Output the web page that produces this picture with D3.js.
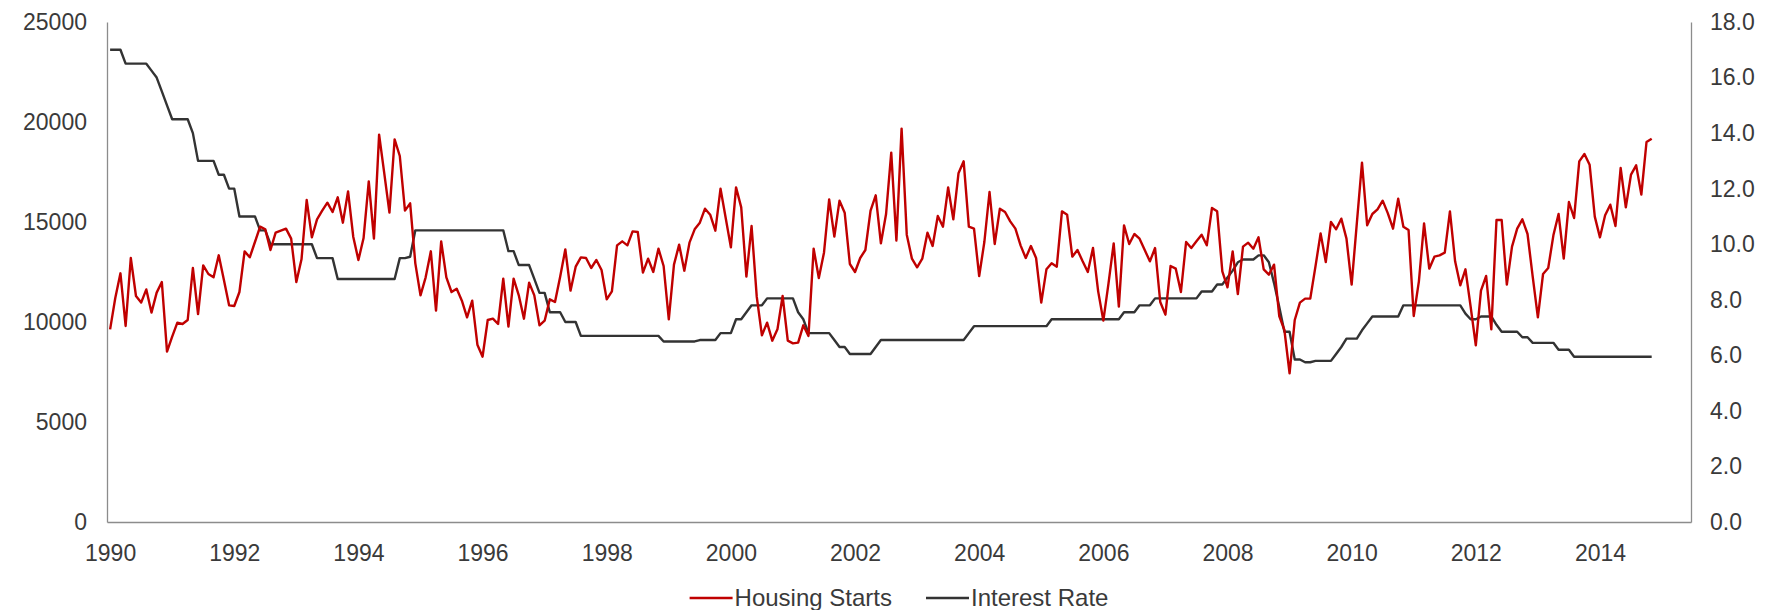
<!DOCTYPE html>
<html>
<head>
<meta charset="utf-8">
<script src="https://cdn.jsdelivr.net/npm/d3@7"></script>
<style>
  body { margin: 0; background: #ffffff; }
  text { font-family: "Liberation Sans", Arial, sans-serif; fill: #3a3a3a; }
</style>
</head>
<body>
<svg id="chart" width="1773" height="610"></svg>
<script>
// Monthly series, starting January 1990
const startYear = 1990;
const yearTicks = [1990, 1992, 1994, 1996, 1998, 2000, 2002, 2004, 2006, 2008, 2010, 2012, 2014];
const startsTicks = [0, 5000, 10000, 15000, 20000, 25000];
const rateTicks = [0, 2, 4, 6, 8, 10, 12, 14, 16, 18];
const seriesNames = ["Housing Starts", "Interest Rate"];

const housingStarts = [
  9633, 11200, 12433, 9800, 13200, 11300, 10970, 11630, 10470, 11470, 12000, 8517,
  9270, 9967, 9900, 10100, 12700, 10400, 12833, 12400, 12233, 13333, 12100, 10833,
  10800, 11500, 13533, 13233, 14000, 14767, 14633, 13600, 14467, 14567, 14667, 14167,
  12000, 13133, 16100, 14233, 15133, 15567, 15967, 15500, 16233, 14967, 16533, 14267,
  13100, 14200, 17033, 14167, 19367, 17433, 15467, 19133, 18300, 15567, 15933, 12933,
  11333, 12233, 13533, 10567, 14033, 12233, 11500, 11667, 11067, 10233, 11067, 8867,
  8267, 10100, 10167, 9900, 12167, 9767, 12167, 11333, 10167, 11967, 11333, 9833,
  10067, 11133, 11000, 12267, 13633, 11567, 12767, 13233, 13200, 12700, 13100, 12600,
  11133, 11533, 13833, 14033, 13833, 14533, 14500, 12467, 13167, 12500, 13667, 12800,
  10133, 12867, 13867, 12567, 13967, 14633, 14967, 15667, 15367, 14567, 16667, 15200,
  13733, 16733, 15733, 12267, 14800, 11267, 9333, 9967, 9067, 9633, 11300, 9067,
  8933, 8967, 9833, 9300, 13667, 12200, 13467, 16133, 14267, 16067, 15467, 12900,
  12500, 13200, 13600, 15567, 16333, 13933, 15400, 18467, 14067, 19667, 14367, 13167,
  12733, 13167, 14467, 13800, 15300, 14767, 16733, 15133, 17433, 18033, 14767, 14667,
  12300, 14000, 16500, 13900, 15667, 15500, 15033, 14667, 13833, 13200, 13800, 13200,
  10967, 12633, 12933, 12767, 15533, 15367, 13267, 13600, 13033, 12500, 13700, 11533,
  10067, 11933, 13933, 10767, 14833, 13900, 14400, 14167, 13600, 13033, 13700, 11000,
  10367, 12800, 12667, 11500, 14000, 13700, 14033, 14367, 13833, 15700, 15533, 12533,
  11733, 13533, 11400, 13767, 13967, 13667, 14233, 12633, 12367, 12867, 10300, 9600,
  7433, 10100, 10967, 11167, 11167, 12767, 14433, 13000, 15000, 14633, 15167, 14167,
  11867, 14933, 17967, 14833, 15400, 15633, 16067, 15433, 14667, 16167, 14767, 14600,
  10300, 12033, 14933, 12667, 13267, 13333, 13467, 15533, 13033, 11833, 12633, 10767,
  8833, 11567, 12300, 9633, 15100, 15100, 11867, 13767, 14667, 15133, 14400, 12267,
  10233, 12400, 12700, 14333, 15400, 13167, 16000, 15200, 18033, 18400, 17867, 15267,
  14233, 15333, 15867, 14800, 17700, 15733, 17367, 17833, 16367, 19000, 19167
];

const interestRate = [
  17.0, 17.0, 17.0, 16.5, 16.5, 16.5, 16.5, 16.5, 16.25, 16.0, 15.5, 15.0,
  14.5, 14.5, 14.5, 14.5, 14.0, 13.0, 13.0, 13.0, 13.0, 12.5, 12.5, 12.0,
  12.0, 11.0, 11.0, 11.0, 11.0, 10.5, 10.5, 10.0, 10.0, 10.0, 10.0, 10.0,
  10.0, 10.0, 10.0, 10.0, 9.5, 9.5, 9.5, 9.5, 8.75, 8.75, 8.75, 8.75,
  8.75, 8.75, 8.75, 8.75, 8.75, 8.75, 8.75, 8.75, 9.5, 9.5, 9.55, 10.5,
  10.5, 10.5, 10.5, 10.5, 10.5, 10.5, 10.5, 10.5, 10.5, 10.5, 10.5, 10.5,
  10.5, 10.5, 10.5, 10.5, 10.5, 9.75, 9.75, 9.25, 9.25, 9.25, 8.75, 8.25,
  8.25, 7.55, 7.55, 7.55, 7.2, 7.2, 7.2, 6.7, 6.7, 6.7, 6.7, 6.7,
  6.7, 6.7, 6.7, 6.7, 6.7, 6.7, 6.7, 6.7, 6.7, 6.7, 6.7, 6.5,
  6.5, 6.5, 6.5, 6.5, 6.5, 6.5, 6.55, 6.55, 6.55, 6.55, 6.8, 6.8,
  6.8, 7.3, 7.3, 7.55, 7.8, 7.8, 7.8, 8.05, 8.05, 8.05, 8.05, 8.05,
  8.05, 7.55, 7.3, 6.8, 6.8, 6.8, 6.8, 6.8, 6.55, 6.3, 6.3, 6.05,
  6.05, 6.05, 6.05, 6.05, 6.3, 6.55, 6.55, 6.55, 6.55, 6.55, 6.55, 6.55,
  6.55, 6.55, 6.55, 6.55, 6.55, 6.55, 6.55, 6.55, 6.55, 6.55, 6.8, 7.05,
  7.05, 7.05, 7.05, 7.05, 7.05, 7.05, 7.05, 7.05, 7.05, 7.05, 7.05, 7.05,
  7.05, 7.05, 7.3, 7.3, 7.3, 7.3, 7.3, 7.3, 7.3, 7.3, 7.3, 7.3,
  7.3, 7.3, 7.3, 7.3, 7.55, 7.55, 7.55, 7.8, 7.8, 7.8, 8.05, 8.05,
  8.05, 8.05, 8.05, 8.05, 8.05, 8.05, 8.05, 8.3, 8.3, 8.3, 8.55, 8.55,
  8.8, 9.05, 9.35, 9.45, 9.45, 9.45, 9.6, 9.6, 9.35, 8.6, 7.75, 6.85,
  6.85, 5.85, 5.85, 5.75, 5.75, 5.8, 5.8, 5.8, 5.8, 6.05, 6.3, 6.6,
  6.6, 6.6, 6.9, 7.15, 7.4, 7.4, 7.4, 7.4, 7.4, 7.4, 7.8, 7.8,
  7.8, 7.8, 7.8, 7.8, 7.8, 7.8, 7.8, 7.8, 7.8, 7.8, 7.5, 7.3,
  7.3, 7.4, 7.4, 7.4, 7.1, 6.85, 6.85, 6.85, 6.85, 6.65, 6.65, 6.45,
  6.45, 6.45, 6.45, 6.45, 6.2, 6.2, 6.2, 5.95, 5.95, 5.95, 5.95, 5.95,
  5.95, 5.95, 5.95, 5.95, 5.95, 5.95, 5.95, 5.95, 5.95, 5.95, 5.95
];

const colors = { starts: "#c00000", rate: "#333333", axis: "#8c8c8c", text: "#3a3a3a" };

const svg = d3.select("#chart");
const plot = { left: 107, right: 1691, top: 22, bottom: 522 };

// x positions are months elapsed since January of the start year
const x = d3.scaleLinear().domain([-0.6, 305.6]).range([plot.left, plot.right]);
const yLeft = d3.scaleLinear().domain([0, 25000]).range([plot.bottom, plot.top]);
const yRight = d3.scaleLinear().domain([0, 18]).range([plot.bottom, plot.top]);

const tickFont = 23;

// Left axis (housing starts)
const gLeft = svg.append("g").attr("transform", `translate(${plot.left},0)`)
  .call(d3.axisLeft(yLeft).tickValues(startsTicks).tickSize(0).tickPadding(20).tickFormat(d3.format("d")));
// Right axis (interest rate)
const gRight = svg.append("g").attr("transform", `translate(${plot.right},0)`)
  .call(d3.axisRight(yRight).tickValues(rateTicks).tickSize(0).tickPadding(19).tickFormat(d3.format(".1f")));
// Bottom axis (years)
const gBottom = svg.append("g").attr("transform", `translate(0,${plot.bottom})`)
  .call(d3.axisBottom(x).tickValues(yearTicks.map(y => (y - startYear) * 12)).tickSize(0).tickPadding(23)
    .tickFormat((d, i) => String(yearTicks[i])));

[gLeft, gRight, gBottom].forEach(g => {
  g.select(".domain").attr("stroke", colors.axis).attr("stroke-width", 1.3);
  g.selectAll("text").style("font-size", tickFont + "px").attr("fill", colors.text)
    .style("font-family", "'Liberation Sans', Arial, sans-serif");
});

// Series lines
const startsLine = d3.line().x((d, i) => x(i)).y(d => yLeft(d));
const rateLine = d3.line().x((d, i) => x(i)).y(d => yRight(d));

svg.append("path").datum(interestRate)
  .attr("d", rateLine).attr("fill", "none")
  .attr("stroke", colors.rate).attr("stroke-width", 2.4).attr("stroke-linejoin", "round");

svg.append("path").datum(housingStarts)
  .attr("d", startsLine).attr("fill", "none")
  .attr("stroke", colors.starts).attr("stroke-width", 2.4).attr("stroke-linejoin", "round");

// Legend, centred under the plot
const legend = svg.append("g");
const legendColors = [colors.starts, colors.rate];
const gap = 34;
let cursor = 0;
seriesNames.forEach((name, i) => {
  const g = legend.append("g").attr("transform", `translate(${cursor},0)`);
  g.append("line").attr("x1", 0).attr("x2", 43).attr("y1", 0).attr("y2", 0)
    .attr("stroke", legendColors[i]).attr("stroke-width", 2.6);
  const t = g.append("text").attr("x", 45).attr("y", 0).attr("dy", "0.35em")
    .style("font-size", "24px").attr("fill", colors.text).text(name);
  cursor += 45 + t.node().getComputedTextLength() + gap;
});
const legendWidth = cursor - gap;
legend.attr("transform", `translate(${(plot.left + plot.right) / 2 - legendWidth / 2},598)`);
</script>
</body>
</html>
